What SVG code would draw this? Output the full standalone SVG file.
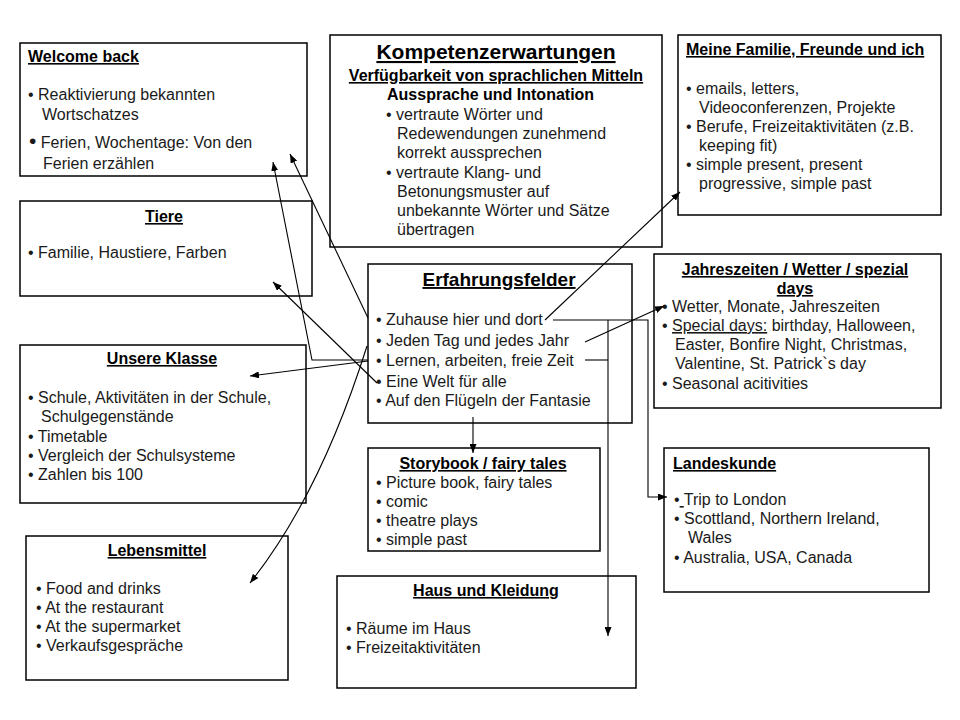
<svg xmlns="http://www.w3.org/2000/svg" width="960" height="720" viewBox="0 0 960 720">
<style>
.box{fill:#fff;stroke:#000;stroke-width:1.5}
text{font-family:"Liberation Sans",Arial,sans-serif;font-size:16px;fill:#1a1a1a}
.h{font-weight:bold;text-decoration:underline;fill:#000}
.b{font-weight:bold;fill:#000}
.u{text-decoration:underline}
.big{font-size:21px}
.mid{font-size:19px}
.c{fill:none;stroke:#000;stroke-width:1.1}
</style>
<defs>
<marker id="ah" viewBox="0 0 9 7" refX="9" refY="3.5" markerWidth="9" markerHeight="7" orient="auto" markerUnits="userSpaceOnUse"><path d="M0,0 L9,3.5 L0,7 z" fill="#000"/></marker>
</defs>
<rect width="960" height="720" fill="#fff"/>

<g id="welcome">
<rect class="box" x="20" y="43" width="287" height="133"/>
<text class="h" x="28" y="62">Welcome back</text>
<text x="28" y="100">• Reaktivierung bekannten</text>
<text x="42" y="120">Wortschatzes</text>
<text x="29" y="148"><tspan class="big">•</tspan>  Ferien, Wochentage: Von den</text>
<text x="43" y="169">Ferien erzählen</text>
</g>

<g id="kompetenz">
<rect class="box" x="330" y="35" width="332" height="212"/>
<text class="h big" x="496" y="59" text-anchor="middle">Kompetenzerwartungen</text>
<text class="h" x="496" y="81" text-anchor="middle">Verfügbarkeit von sprachlichen Mitteln</text>
<text class="b" x="387" y="100">Aussprache und Intonation</text>
<text x="386" y="120">• vertraute Wörter und</text>
<text x="397" y="139">Redewendungen zunehmend</text>
<text x="397" y="158">korrekt aussprechen</text>
<text x="386" y="178">• vertraute Klang- und</text>
<text x="397" y="197">Betonungsmuster auf</text>
<text x="397" y="216">unbekannte Wörter und Sätze</text>
<text x="397" y="235">übertragen</text>
</g>

<g id="familie">
<rect class="box" x="678" y="35" width="263" height="180"/>
<text class="h" x="686" y="55">Meine Familie, Freunde und ich</text>
<text x="686" y="94">• emails, letters,</text>
<text x="699" y="113">Videoconferenzen, Projekte</text>
<text x="686" y="132">• Berufe, Freizeitaktivitäten (z.B.</text>
<text x="699" y="151">keeping fit)</text>
<text x="686" y="170">• simple present, present</text>
<text x="699" y="189">progressive, simple past</text>
</g>

<g id="tiere">
<rect class="box" x="20" y="201" width="292" height="95"/>
<text class="h" x="164" y="222" text-anchor="middle">Tiere</text>
<text x="28" y="258">• Familie, Haustiere, Farben</text>
</g>

<g id="erfahrungsfelder">
<rect class="box" x="368" y="264" width="264" height="159"/>
<text class="h mid" x="499" y="286" text-anchor="middle">Erfahrungsfelder</text>
<text x="376" y="325">• Zuhause hier und dort</text>
<text x="376" y="346">• Jeden Tag und jedes Jahr</text>
<text x="376" y="366">• Lernen, arbeiten, freie Zeit</text>
<text x="376" y="387">• Eine Welt für alle</text>
<text x="376" y="406">• Auf den Flügeln der Fantasie</text>
</g>

<g id="jahreszeiten">
<rect class="box" x="654" y="254" width="287" height="154"/>
<text class="h" x="795" y="275" text-anchor="middle">Jahreszeiten / Wetter / spezial</text>
<text class="h" x="795" y="294" text-anchor="middle">days</text>
<text x="662" y="312">•  Wetter, Monate, Jahreszeiten</text>
<text x="662" y="331">• <tspan class="u">Special days:</tspan> birthday, Halloween,</text>
<text x="675" y="350">Easter,  Bonfire Night, Christmas,</text>
<text x="675" y="369">Valentine, St. Patrick`s day</text>
<text x="662" y="389">• Seasonal acitivities</text>
</g>

<g id="unsere-klasse">
<rect class="box" x="20" y="345" width="286" height="158"/>
<text class="h" x="162" y="364" text-anchor="middle">Unsere Klasse</text>
<text x="28" y="403">• Schule, Aktivitäten in der Schule,</text>
<text x="41" y="422">Schulgegenstände</text>
<text x="28" y="442">• Timetable</text>
<text x="28" y="461">• Vergleich der Schulsysteme</text>
<text x="28" y="480">• Zahlen bis 100</text>
</g>

<g id="storybook">
<rect class="box" x="368" y="448" width="232" height="103"/>
<text class="h" x="483" y="469" text-anchor="middle">Storybook / fairy tales</text>
<text x="376" y="488">• Picture book, fairy tales</text>
<text x="376" y="507">• comic</text>
<text x="376" y="526">• theatre plays</text>
<text x="376" y="545">• simple past</text>
</g>

<g id="landeskunde">
<rect class="box" x="664" y="448" width="265" height="144"/>
<text class="h" x="673" y="469">Landeskunde</text>
<text x="674" y="505">•<tspan class="u"> </tspan>Trip to London</text>
<text x="674" y="524">• Scottland, Northern Ireland,</text>
<text x="688" y="543">Wales</text>
<text x="674" y="563">• Australia, USA, Canada</text>
</g>

<g id="lebensmittel">
<rect class="box" x="26" y="536" width="262" height="144"/>
<text class="h" x="157" y="556" text-anchor="middle">Lebensmittel</text>
<text x="36" y="594">• Food and drinks</text>
<text x="36" y="613">• At the restaurant</text>
<text x="36" y="632">• At the supermarket</text>
<text x="36" y="651">• Verkaufsgespräche</text>
</g>

<g id="haus">
<rect class="box" x="337" y="576" width="299" height="112"/>
<text class="h" x="486" y="596" text-anchor="middle">Haus und Kleidung</text>
<text x="346" y="634">• Räume im Haus</text>
<text x="346" y="653">• Freizeitaktivitäten</text>
</g>

<g id="connectors">
<path class="c" d="M368,318 L290,154" marker-end="url(#ah)"/>
<path class="c" d="M368,360 L312,360 L273,162" marker-end="url(#ah)"/>
<path class="c" d="M377,383 L273,282" marker-end="url(#ah)"/>
<path class="c" d="M368,361 L250,376" marker-end="url(#ah)"/>
<path class="c" d="M367,346 Q320,495 250,583" marker-end="url(#ah)"/>
<path class="c" d="M545,320 L680,192" marker-end="url(#ah)"/>
<path class="c" d="M585,342 L664,306" marker-end="url(#ah)"/>
<path class="c" d="M553,320 L648,320 L648,497 L667,497" marker-end="url(#ah)"/>
<path class="c" d="M585,360 L608,360"/>
<path class="c" d="M608,320 L608,636" marker-end="url(#ah)"/>
<path class="c" d="M473,417 L473,453" marker-end="url(#ah)"/>
</g>
</svg>
